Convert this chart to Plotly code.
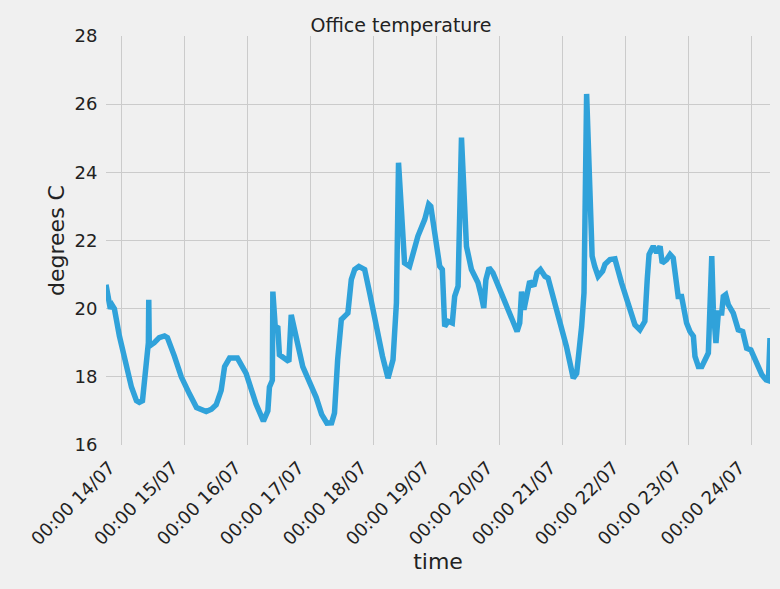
import pandas as pd
import plotly.graph_objects as go

# hours since 14/07 00:00 and office temperature (deg C)
hours = [-6.0, -5.1, -4.35, -3.6, -2.8, -0.9, 1.0, 3.7, 5.6, 6.7, 7.9,
         8.6, 9.4, 9.9, 10.15, 10.3, 10.5, 12.4, 14.3, 16.3, 17.4, 20.1, 22.7, 25.8,
         28.5, 32.2, 34.2, 36.0, 37.9, 39.2, 41.1, 44.1, 47.4, 51.2, 54.0, 55.7,
         56.3, 57.4, 57.6, 58.5, 59.5, 60.1, 61.4, 63.7, 64.6, 66.5, 69.0, 74.1,
         76.2, 78.2, 80.0, 81.1, 81.8, 82.3, 83.7, 86.2, 87.5, 88.8, 90.4, 92.6,
         94.5, 97.0, 99.4, 101.5, 103.4, 104.7, 105.5, 106.6, 107.8, 109.7, 111.6,
         112.9, 115.5, 117.0, 117.8, 118.6, 119.7, 120.5, 121.2, 122.2, 123.1,
         124.4, 126.0, 126.9, 128.2, 129.5, 130.1, 131.4, 133.3, 134.6, 135.8,
         137.1, 138.0, 138.8, 140.0, 141.5, 145.4, 148.6, 150.7, 151.7, 152.4,
         153.3, 154.5, 155.5, 157.1, 158.3, 159.6, 161.3, 162.5, 165.7, 169.5,
         172.1, 173.4, 175.3, 176.2, 177.2, 178.4, 179.3, 180.3, 181.6, 183.3,
         184.2, 186.1, 188.0, 190.5, 193.1, 195.6, 197.5, 199.4, 200.3, 201.0,
         202.6, 203.9, 205.2, 206.0, 207.7, 209.0, 210.2, 211.3, 212.1, 213.4,
         214.3, 215.3, 216.6, 217.9, 218.5, 219.8, 221.1, 222.3, 223.6, 224.9,
         225.5, 226.5, 227.4, 228.7, 229.3, 230.2, 231.2, 233.1, 235.0, 236.7,
         238.2, 239.8, 241.4, 244.0, 245.6, 246.5, 247.1]
temps = [20.7, 20.3, 20.0, 20.1, 20.0, 19.2, 18.5, 17.7, 17.3, 17.25, 17.3,
         17.9, 18.4, 18.7, 19.0, 20.26, 18.9, 19.0, 19.15, 19.2, 19.15, 18.6, 18.0, 17.5,
         17.1, 16.98, 17.05, 17.18, 17.6, 18.3, 18.55, 18.55, 18.1, 17.2, 16.7, 17.0,
         17.7, 17.9, 20.5, 19.48, 19.44, 18.65, 18.56, 18.45, 19.82, 19.1, 18.3, 17.4,
         16.9, 16.64, 16.65, 16.94, 18.2, 18.5, 19.68, 19.87, 20.85, 21.15, 21.24, 21.15,
         20.46, 19.48, 18.6, 17.96, 18.5, 20.17, 24.28, 22.9, 21.34, 21.24, 21.74,
         22.13, 22.62, 23.06, 23.0, 22.6, 21.93, 21.74, 21.24, 21.15, 19.48,
         19.63, 19.58, 20.36, 20.66, 25.02, 23.99, 21.83, 21.15, 20.9, 20.76,
         20.36, 20.02, 20.85, 21.2, 21.05, 20.36, 19.77, 19.33, 19.58, 20.5,
         19.97, 20.36, 20.8, 20.66, 21.05, 21.15, 20.95, 20.9, 19.97, 18.89,
         17.96, 18.1, 19.48, 20.46, 26.3, 23.6, 21.54, 21.24, 20.95, 21.1,
         21.3, 21.44, 21.46, 20.76, 20.12, 19.53, 19.38, 19.63, 20.85, 21.59,
         21.83, 21.64, 21.83, 21.34, 21.44, 21.59, 21.49, 20.76, 20.36, 20.36,
         19.87, 19.58, 19.33, 19.19, 18.6, 18.3, 18.3, 18.5, 18.7, 21.54,
         19.97, 18.99, 19.87, 19.87, 20.36, 20.41, 20.12, 19.87, 19.38, 19.33,
         18.84, 18.79, 18.5, 18.06, 17.91, 17.89, 19.14]

day_labels = ["14/07", "15/07", "16/07", "17/07", "18/07", "19/07",
              "20/07", "21/07", "22/07", "23/07", "24/07"]
y_ticks = [16, 18, 20, 22, 24, 26, 28]

base = pd.Timestamp("2016-07-14 00:00")
times = [base + pd.Timedelta(hours=h) for h in hours]
tick_vals = [base + pd.Timedelta(days=i) for i in range(len(day_labels))]
tick_text = ["00:00 " + d for d in day_labels]

FONT = "DejaVu Sans"
TXT = "#222222"
GRID = "#cbcbcb"
BG = "#f0f0f0"

fig = go.Figure()
fig.add_trace(go.Scatter(x=times, y=temps, mode="lines",
                         line=dict(color="#30a2da", width=5.5),
                         showlegend=False))

fig.update_layout(
    width=780, height=589,
    margin=dict(l=106, r=10, t=36, b=144),
    paper_bgcolor=BG, plot_bgcolor=BG,
    font=dict(family=FONT, color=TXT),
    title=dict(text="Office temperature", x=401 / 780, xanchor="center",
               y=1 - 25 / 589, yanchor="middle",
               font=dict(family=FONT, size=19, color=TXT)),
    xaxis=dict(
        type="date", range=[times[0], times[-1]], automargin=False,
        tickmode="array", tickvals=tick_vals, ticktext=tick_text,
        tickangle=-45, tickfont=dict(size=18, color=TXT),
        ticklabelshift=-12,
        ticks="outside", ticklen=4, tickcolor="rgba(0,0,0,0)",
        showgrid=True, gridcolor=GRID, gridwidth=1.3,
        zeroline=False, showline=False,
        title=dict(text="time", font=dict(size=22, color=TXT), standoff=1),
    ),
    yaxis=dict(
        range=[16, 28], tickmode="array", tickvals=y_ticks, automargin=False,
        tickfont=dict(size=18, color=TXT),
        ticks="outside", ticklen=4, tickcolor="rgba(0,0,0,0)",
        showgrid=True, gridcolor=GRID, gridwidth=1.3,
        zeroline=False, showline=False,
        title=dict(text="degrees C", font=dict(size=22, color=TXT), standoff=3),
    ),
)

fig.write_html("out.html", config={"displayModeBar": False},
               post_script="document.body.style.margin='0';document.body.style.padding='0';")
